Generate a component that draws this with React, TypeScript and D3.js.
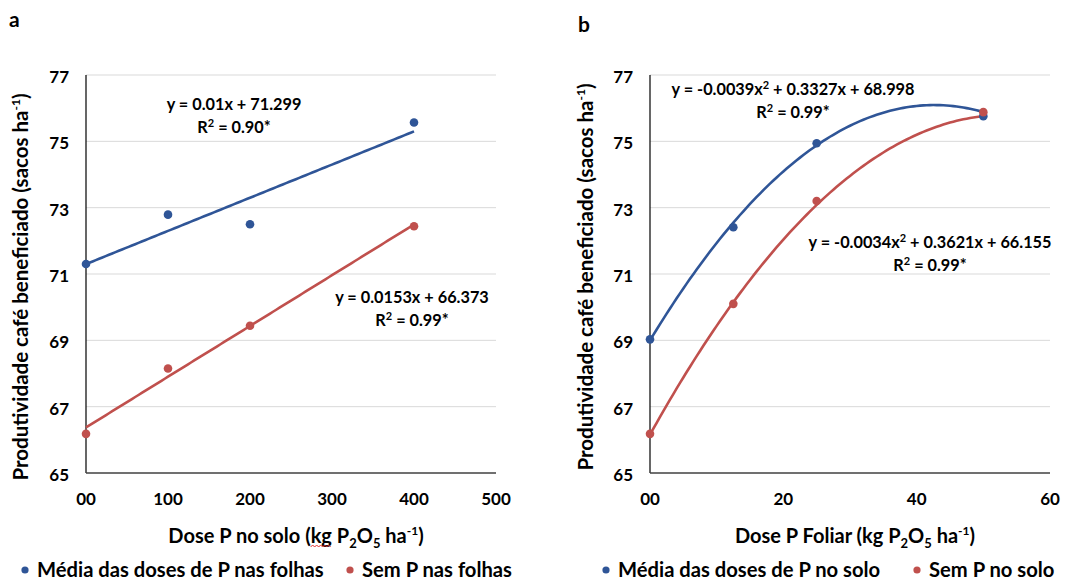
import React, { useLayoutEffect, useRef, useState } from 'react';
import * as d3 from 'd3';

// ---------- data ----------
const dosesSolo = [0, 100, 200, 400];
const mediaDosesFolhas = [71.3, 72.79, 72.5, 75.57];
const semPFolhas = [66.18, 68.15, 69.44, 72.44];

const dosesFoliar = [0, 12.5, 25, 50];
const mediaDosesSolo = [69.03, 72.41, 74.94, 75.76];
const semPSolo = [66.18, 70.1, 73.2, 75.88];

const xTicksSolo = [0, 100, 200, 300, 400, 500];
const xTickLabelsSolo = ['00', '100', '200', '300', '400', '500'];
const xTicksFoliar = [0, 20, 40, 60];
const xTickLabelsFoliar = ['00', '20', '40', '60'];
const yTicks = [65, 67, 69, 71, 73, 75, 77];

// fitted trend coefficients [a2, a1, a0] as printed on chart
const fitMediaFolhas = [0, 0.01, 71.299];
const fitSemPFolhas = [0, 0.0153, 66.373];
const fitMediaSolo = [-0.0039, 0.3327, 68.998];
const fitSemPSolo = [-0.0034, 0.3621, 66.155];

const BLUE = '#2F5597';
const RED = '#C0504D';
const FONT = "Lato, 'Open Sans', sans-serif";

type Series = { x: number[]; y: number[]; fit: number[]; color: string; name: string };

type PanelProps = {
  letter: string;
  letterPos: [number, number];
  xDomain: [number, number];
  xRange: [number, number];
  xTicks: number[];
  xTickLabels: string[];
  xTitleLabel: string;
  xTitleX: number;
  yTitleX: number;
  yTitleY: number;
  series: Series[];
  fitMax: number;
  annotations: { eq: React.ReactNode; r2: string; x: number; y: number }[];
  legendX: number[];
  squiggle?: boolean;
};

const sup = (s: string, size = 12, shift = 8) => (
  <>
    <tspan dy={-shift} fontSize={size}>{s}</tspan>
    <tspan dy={shift}>{'\u200B'}</tspan>
  </>
);
const sub = (s: string, size = 13, shift = 5) => (
  <>
    <tspan dy={shift} fontSize={size}>{s}</tspan>
    <tspan dy={-shift}>{'\u200B'}</tspan>
  </>
);

function Panel(p: PanelProps) {
  const x = d3.scaleLinear().domain(p.xDomain).range(p.xRange);
  const y = d3.scaleLinear().domain([65, 77]).range([473, 75]);
  const [x0, x1] = p.xRange;
  const line = d3
    .line<number>()
    .x((d) => x(d))
    .curve(d3.curveLinear);

  const kgRef = useRef<SVGTSpanElement>(null);
  const [sq, setSq] = useState<[number, number] | null>(null);
  useLayoutEffect(() => {
    if (p.squiggle && kgRef.current) {
      try {
        const n = kgRef.current.getNumberOfChars();
        const s = kgRef.current.getStartPositionOfChar(0);
        const e = kgRef.current.getEndPositionOfChar(n - 1);
        setSq([s.x, e.x]);
      } catch (err) {
        /* ignore */
      }
    }
  }, [p.squiggle]);

  let squigglePath = '';
  if (sq) {
    const pts: [number, number][] = d3
      .range(sq[0], sq[1] + 0.01, 2)
      .map((px, i) => [px, 546 + (i % 2 ? -1 : 1)]);
    squigglePath = d3.line()(pts) || '';
  }

  return (
    <g fontFamily={FONT} fontWeight="bold" fill="#000">
      <text x={p.letterPos[0]} y={p.letterPos[1]} fontSize={21}>{p.letter}</text>
      {/* grid */}
      {yTicks.slice(1).map((t) => (
        <line key={t} x1={x0} x2={x1} y1={y(t)} y2={y(t)} stroke="#D9D9D9" strokeWidth={1} />
      ))}
      {/* axes */}
      <line x1={x0} x2={x0} y1={y(77)} y2={y(65)} stroke="#000" strokeWidth={1.2} />
      <line x1={x0} x2={x1} y1={y(65)} y2={y(65)} stroke="#404040" strokeWidth={1.3} />
      {/* y tick labels */}
      {yTicks.map((t) => (
        <text key={t} x={x0 - 17} y={y(t) + 8} fontSize={17} textAnchor="end">{t}</text>
      ))}
      {/* x tick labels */}
      {p.xTicks.map((t, i) => (
        <text key={t} x={x(t)} y={505} fontSize={17} textAnchor="middle">{p.xTickLabels[i]}</text>
      ))}
      {/* axis titles */}
      <text x={p.xTitleX} y={543} fontSize={20} textAnchor="middle">
        {p.xTitleLabel} (<tspan ref={kgRef}>kg</tspan> P{sub('2')}O{sub('5')} ha{sup('-1')})
      </text>
      {sq && <path d={squigglePath} fill="none" stroke="#E03030" strokeWidth={1} />}
      <text
        transform={`translate(${p.yTitleX},${p.yTitleY}) rotate(-90)`}
        fontSize={20.5}
        textAnchor="middle"
      >
        Produtividade café beneficiado (sacos ha{sup('-1')})
      </text>
      {/* trend lines */}
      {p.series.map((s) => {
        const xs = d3.range(0, p.fitMax + 0.0001, p.fitMax / 100);
        const f = (v: number) => s.fit[0] * v * v + s.fit[1] * v + s.fit[2];
        const path = line.y((v) => y(f(v)))(xs) || '';
        return <path key={s.name + 'fit'} d={path} fill="none" stroke={s.color} strokeWidth={2.6} />;
      })}
      {/* points */}
      {p.series.map((s) =>
        s.x.map((xv, i) => (
          <circle key={s.name + i} cx={x(xv)} cy={y(s.y[i])} r={4.3} fill={s.color} />
        ))
      )}
      {/* annotations */}
      {p.annotations.map((a, i) => (
        <g key={i}>
          <text x={a.x} y={a.y} fontSize={16.3} textAnchor="middle">{a.eq}</text>
          <text x={a.x} y={a.y + 23} fontSize={16.3} textAnchor="middle">
            R{sup('2', 11, 6)} = {a.r2}
          </text>
        </g>
      ))}
      {/* legend */}
      {p.series.map((s, i) => (
        <g key={s.name + 'leg'}>
          <circle cx={p.legendX[i]} cy={570} r={3.6} fill={s.color} />
          <text x={p.legendX[i] + 12} y={577} fontSize={20.2}>{s.name}</text>
        </g>
      ))}
    </g>
  );
}

export default function App() {
  const seriesA: Series[] = [
    { x: dosesSolo, y: mediaDosesFolhas, fit: fitMediaFolhas, color: BLUE, name: 'Média das doses de P nas folhas' },
    { x: dosesSolo, y: semPFolhas, fit: fitSemPFolhas, color: RED, name: 'Sem P nas folhas' },
  ];
  const seriesB: Series[] = [
    { x: dosesFoliar, y: mediaDosesSolo, fit: fitMediaSolo, color: BLUE, name: 'Média das doses de P no solo' },
    { x: dosesFoliar, y: semPSolo, fit: fitSemPSolo, color: RED, name: 'Sem P no solo' },
  ];
  return (
    <svg
      width={1081}
      height={580}
      style={{ position: 'absolute', left: 0, top: 0, background: '#fff' }}
    >
      <rect width={1081} height={580} fill="#fff" />
      <Panel
        letter="a"
        letterPos={[9, 27]}
        xDomain={[0, 500]}
        xRange={[86, 496]}
        xTicks={xTicksSolo}
        xTickLabels={xTickLabelsSolo}
        xTitleLabel="Dose P no solo"
        xTitleX={296}
        yTitleX={28}
        yTitleY={287}
        series={seriesA}
        fitMax={400}
        annotations={[
          { eq: <>y = 0.01x + 71.299</>, r2: '0.90*', x: 234, y: 110 },
          { eq: <>y = 0.0153x + 66.373</>, r2: '0.99*', x: 412, y: 303 },
        ]}
        legendX={[25, 350]}
        squiggle
      />
      <Panel
        letter="b"
        letterPos={[578, 32]}
        xDomain={[0, 60]}
        xRange={[650, 1050]}
        xTicks={xTicksFoliar}
        xTickLabels={xTickLabelsFoliar}
        xTitleLabel="Dose P Foliar"
        xTitleX={855}
        yTitleX={593}
        yTitleY={277}
        series={seriesB}
        fitMax={50}
        annotations={[
          { eq: <>y = -0.0039x{sup('2', 11, 6)} + 0.3327x + 68.998</>, r2: '0.99*', x: 793, y: 95 },
          { eq: <>y = -0.0034x{sup('2', 11, 6)} + 0.3621x + 66.155</>, r2: '0.99*', x: 930, y: 248 },
        ]}
        legendX={[606, 917]}
      />
    </svg>
  );
}
